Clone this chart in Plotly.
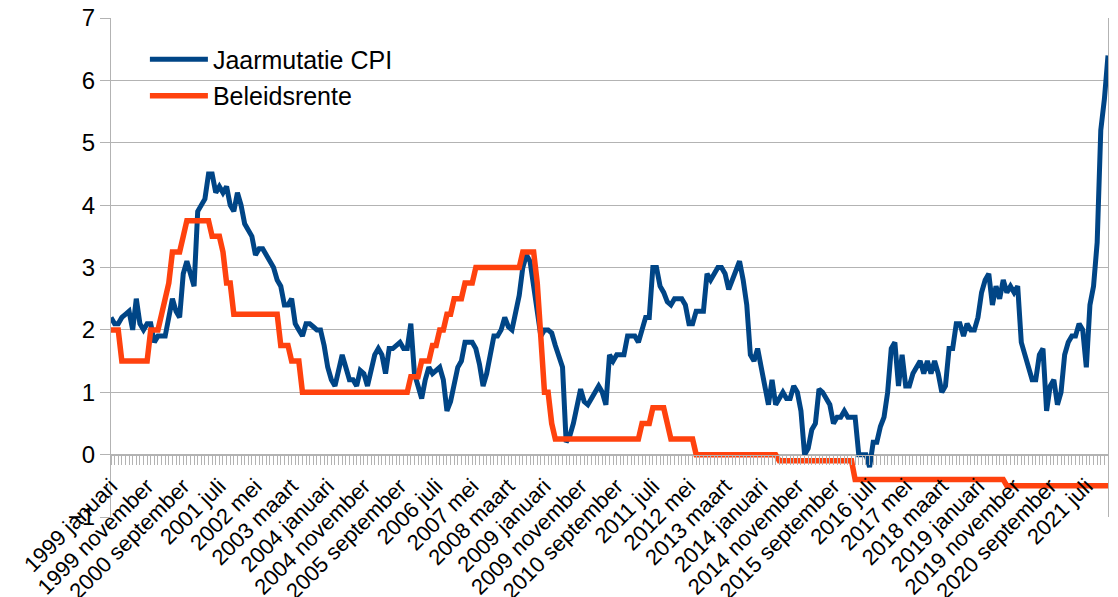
import plotly.graph_objects as go

maanden = ["januari", "februari", "maart", "april", "mei", "juni", "juli",
           "augustus", "september", "oktober", "november", "december"]
jaren = list(range(1999, 2023))
perioden = [f"{j} {m}" for j in jaren for m in maanden][:277]

cpi_1999 = [2.2, 2.1, 2.1, 2.2, 2.25, 2.3, 2.0, 2.5, 2.1, 2.0, 2.1, 2.1]
cpi_2000 = [1.8, 1.9, 1.9, 1.9, 2.2, 2.5, 2.3, 2.2, 2.9, 3.1, 2.9, 2.7]
cpi_2001 = [3.9, 4.0, 4.1, 4.5, 4.5, 4.2, 4.3, 4.2, 4.3, 4.0, 3.9, 4.2]
cpi_2002 = [4.0, 3.7, 3.6, 3.5, 3.2, 3.3, 3.3, 3.2, 3.1, 3.0, 2.8, 2.7]
cpi_2003 = [2.4, 2.4, 2.5, 2.1, 2.0, 1.9, 2.1, 2.1, 2.05, 2.0, 2.0, 1.75]
cpi_2004 = [1.4, 1.2, 1.1, 1.35, 1.6, 1.4, 1.2, 1.2, 1.1, 1.35, 1.3, 1.1]
cpi_2005 = [1.4, 1.6, 1.7, 1.6, 1.3, 1.7, 1.7, 1.75, 1.8, 1.7, 1.7, 2.1]
cpi_2006 = [1.3, 1.1, 0.9, 1.2, 1.4, 1.3, 1.35, 1.4, 1.2, 0.7, 0.85, 1.1]
cpi_2007 = [1.4, 1.5, 1.8, 1.8, 1.8, 1.7, 1.45, 1.1, 1.3, 1.6, 1.9, 1.9]
cpi_2008 = [2.0, 2.2, 2.05, 2.0, 2.3, 2.55, 3.0, 3.2, 3.1, 2.75, 2.3, 1.9]
cpi_2009 = [2.0, 2.0, 1.95, 1.75, 1.55, 1.4, 0.2, 0.3, 0.5, 0.8, 1.05, 0.85]
cpi_2010 = [0.8, 0.9, 1.0, 1.1, 1.0, 0.8, 1.6, 1.5, 1.6, 1.6, 1.6, 1.9]
cpi_2011 = [1.9, 1.9, 1.8, 2.0, 2.2, 2.2, 3.0, 3.0, 2.7, 2.6, 2.45, 2.4]
cpi_2012 = [2.5, 2.5, 2.5, 2.4, 2.1, 2.1, 2.3, 2.3, 2.3, 2.9, 2.8, 2.9]
cpi_2013 = [3.0, 3.0, 2.9, 2.65, 2.8, 2.9, 3.1, 2.8, 2.4, 1.6, 1.5, 1.7]
cpi_2014 = [1.4, 1.1, 0.8, 1.2, 0.8, 0.9, 1.0, 0.9, 0.9, 1.1, 1.0, 0.7]
cpi_2015 = [0.0, 0.1, 0.4, 0.5, 1.05, 1.0, 0.9, 0.8, 0.5, 0.6, 0.6, 0.7]
cpi_2016 = [0.6, 0.6, 0.6, 0.0, 0.0, 0.0, -0.2, 0.2, 0.2, 0.45, 0.6, 1.0]
cpi_2017 = [1.7, 1.8, 1.1, 1.6, 1.1, 1.1, 1.3, 1.4, 1.5, 1.3, 1.5, 1.3]
cpi_2018 = [1.5, 1.3, 1.0, 1.1, 1.7, 1.7, 2.1, 2.1, 1.9, 2.1, 2.0, 2.0]
cpi_2019 = [2.2, 2.6, 2.8, 2.9, 2.4, 2.7, 2.5, 2.8, 2.6, 2.7, 2.6, 2.7]
cpi_2020 = [1.8, 1.6, 1.4, 1.2, 1.2, 1.6, 1.7, 0.7, 1.1, 1.2, 0.8, 1.0]
cpi_2021 = [1.6, 1.8, 1.9, 1.9, 2.1, 2.0, 1.4, 2.4, 2.7, 3.4, 5.2, 5.7]
cpi_2022 = [6.4]

rente_1999 = [2.0, 2.0, 2.0, 1.5, 1.5, 1.5, 1.5, 1.5, 1.5, 1.5, 1.5, 2.0]
rente_2000 = [2.0, 2.0, 2.25, 2.5, 2.75, 3.25, 3.25, 3.25, 3.5, 3.75, 3.75, 3.75]
rente_2001 = [3.75, 3.75, 3.75, 3.75, 3.5, 3.5, 3.5, 3.25, 2.75, 2.75, 2.25, 2.25]
rente_2002 = [2.25] * 11 + [1.75]
rente_2003 = [1.75, 1.75, 1.5, 1.5, 1.5] + [1.0] * 7
rente_2004 = [1.0] * 12
rente_2005 = [1.0] * 11 + [1.25]
rente_2006 = [1.25, 1.25, 1.5, 1.5, 1.5, 1.75, 1.75, 2.0, 2.0, 2.25, 2.25, 2.5]
rente_2007 = [2.5, 2.5, 2.75, 2.75, 2.75] + [3.0] * 7
rente_2008 = [3.0] * 6 + [3.25, 3.25, 3.25, 3.25, 2.75, 2.0]
rente_2009 = [1.0, 1.0, 0.5] + [0.25] * 9
rente_2010 = [0.25] * 12
rente_2011 = [0.25, 0.25, 0.25, 0.5, 0.5, 0.5, 0.75, 0.75, 0.75, 0.75, 0.5, 0.25]
rente_2012 = [0.25] * 6 + [0.0] * 6
rente_2013 = [0.0] * 12
rente_2014 = [0.0] * 5 + [-0.1] * 7
rente_2015 = [-0.1] * 12
rente_2016 = [-0.1, -0.1] + [-0.4] * 10
rente_2017 = [-0.4] * 12
rente_2018 = [-0.4] * 12
rente_2019 = [-0.4] * 8 + [-0.5] * 4
rente_2020 = [-0.5] * 12
rente_2021 = [-0.5] * 12
rente_2022 = [-0.5]

cpi = (cpi_1999 + cpi_2000 + cpi_2001 + cpi_2002 + cpi_2003 + cpi_2004 + cpi_2005
       + cpi_2006 + cpi_2007 + cpi_2008 + cpi_2009 + cpi_2010 + cpi_2011 + cpi_2012
       + cpi_2013 + cpi_2014 + cpi_2015 + cpi_2016 + cpi_2017 + cpi_2018 + cpi_2019
       + cpi_2020 + cpi_2021 + cpi_2022)
rente = (rente_1999 + rente_2000 + rente_2001 + rente_2002 + rente_2003 + rente_2004
         + rente_2005 + rente_2006 + rente_2007 + rente_2008 + rente_2009 + rente_2010
         + rente_2011 + rente_2012 + rente_2013 + rente_2014 + rente_2015 + rente_2016
         + rente_2017 + rente_2018 + rente_2019 + rente_2020 + rente_2021 + rente_2022)

idx = list(range(len(perioden)))
label_idx = idx[::10]
label_text = [perioden[i] for i in label_idx]

FONT = "Liberation Sans, Arial, sans-serif"
GRID = "#b3b3b3"

fig = go.Figure()
fig.add_trace(go.Scatter(x=idx, y=cpi, mode="lines", name="Jaarmutatie CPI",
                         line=dict(color="#004586", width=5), legendgroup="a"))
fig.add_trace(go.Scatter(x=idx, y=rente, mode="lines", name="Beleidsrente",
                         line=dict(color="#ff420e", width=5.5), legendgroup="b"))

fig.update_layout(
    width=1118, height=597,
    margin=dict(l=111, r=10, t=18, b=80, autoexpand=False),
    paper_bgcolor="white", plot_bgcolor="white",
    font=dict(family=FONT, color="black"),
    showlegend=True,
    legend=dict(x=0.034, y=0.963, xanchor="left", yanchor="top",
                font=dict(size=25, family=FONT, color="black"),
                bgcolor="rgba(0,0,0,0)", tracegroupgap=1, itemwidth=58),
    xaxis=dict(range=[0, len(perioden) - 1], tickmode="array", tickvals=label_idx,
               ticktext=label_text, tickangle=-45, ticks="outside", ticklen=9,
               tickcolor=GRID, showline=True, linecolor=GRID, showgrid=False,
               zeroline=False, anchor="free", position=0.125, automargin=False,
               tickfont=dict(size=22, family=FONT, color="black"),
               minor=dict(dtick=1, tick0=0, ticks="outside", ticklen=9,
                          tickcolor=GRID, showgrid=False)),
    yaxis=dict(range=[-1, 7], dtick=1, tick0=0, showgrid=True, gridcolor=GRID,
               showline=True, mirror=True, linecolor=GRID, ticks="outside",
               ticklen=10, tickcolor=GRID, zeroline=False, automargin=False,
               tickfont=dict(size=24, family=FONT, color="black")),
)

fig.write_html("out.html", config={"displayModeBar": False},
               post_script="document.body.style.margin='0';document.body.style.overflow='hidden';")
